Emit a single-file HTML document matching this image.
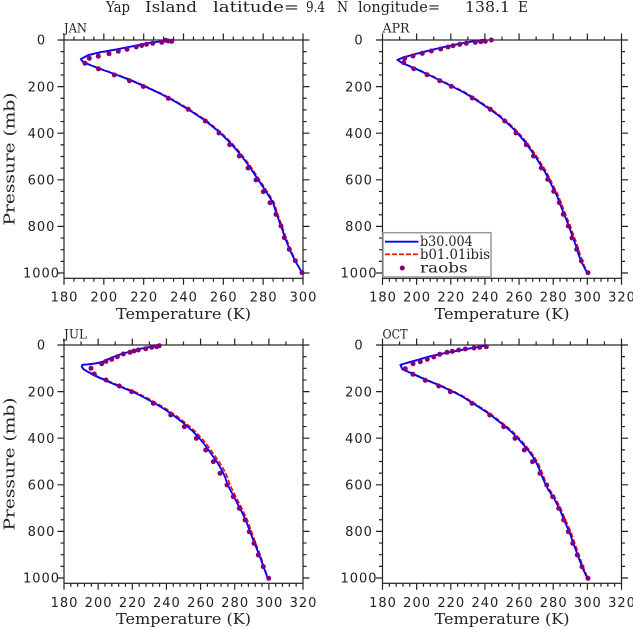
<!DOCTYPE html>
<html>
<head>
<meta charset="utf-8">
<style>
html,body{margin:0;padding:0;background:#fff;}
svg{display:block;}
</style>
</head>
<body>
<svg width="633" height="629" viewBox="0 0 633 629" xmlns="http://www.w3.org/2000/svg">
<defs>
<path id="yt" d="M-6.5 0H0M-6.5 46.6H0M-6.5 93.2H0M-6.5 139.8H0M-6.5 186.4H0M-6.5 233H0M-3.5 11.65H0M-3.5 23.3H0M-3.5 34.95H0M-3.5 58.25H0M-3.5 69.9H0M-3.5 81.55H0M-3.5 104.85H0M-3.5 116.5H0M-3.5 128.15H0M-3.5 151.45H0M-3.5 163.1H0M-3.5 174.75H0M-3.5 198.05H0M-3.5 209.7H0M-3.5 221.35H0"/>
<path id="xa" d="M0 0V6.5M39.83 0V6.5M79.67 0V6.5M119.5 0V6.5M159.33 0V6.5M199.17 0V6.5M239 0V6.5M9.96 0V3.5M19.92 0V3.5M29.88 0V3.5M49.79 0V3.5M59.75 0V3.5M69.71 0V3.5M89.63 0V3.5M99.58 0V3.5M109.54 0V3.5M129.46 0V3.5M139.42 0V3.5M149.38 0V3.5M169.29 0V3.5M179.25 0V3.5M189.21 0V3.5M209.13 0V3.5M219.08 0V3.5M229.04 0V3.5"/>
<path id="xb" d="M0 0V6.5M34.14 0V6.5M68.29 0V6.5M102.43 0V6.5M136.57 0V6.5M170.71 0V6.5M204.86 0V6.5M239 0V6.5M6.83 0V3.5M13.66 0V3.5M20.49 0V3.5M27.31 0V3.5M40.97 0V3.5M47.8 0V3.5M54.63 0V3.5M61.46 0V3.5M75.11 0V3.5M81.94 0V3.5M88.77 0V3.5M95.6 0V3.5M109.26 0V3.5M116.09 0V3.5M122.91 0V3.5M129.74 0V3.5M143.4 0V3.5M150.23 0V3.5M157.06 0V3.5M163.89 0V3.5M177.54 0V3.5M184.37 0V3.5M191.2 0V3.5M198.03 0V3.5M211.69 0V3.5M218.51 0V3.5M225.34 0V3.5M232.17 0V3.5"/>
<path id="xbt" d="M0 0V6.5M34.14 0V6.5M68.29 0V6.5M102.43 0V6.5M136.57 0V6.5M170.71 0V6.5M204.86 0V6.5M239 0V6.5M17.07 0V3.5M51.21 0V3.5M85.36 0V3.5M119.5 0V3.5M153.64 0V3.5M187.79 0V3.5M221.93 0V3.5"/>
</defs>

<!-- Title -->
<g font-family="'DejaVu Serif', 'Liberation Serif', serif" font-size="15" fill="#222">
<text x="106" y="12" textLength="24" lengthAdjust="spacingAndGlyphs">Yap</text>
<text x="145" y="12" textLength="52" lengthAdjust="spacingAndGlyphs">Island</text>
<text x="213" y="12" textLength="86" lengthAdjust="spacingAndGlyphs">latitude=</text>
<text x="306" y="12" textLength="19" lengthAdjust="spacingAndGlyphs">9.4</text>
<text x="337" y="12" textLength="11" lengthAdjust="spacingAndGlyphs">N</text>
<text x="358" y="12" textLength="82" lengthAdjust="spacingAndGlyphs">longitude=</text>
<text x="465" y="12" textLength="45" lengthAdjust="spacingAndGlyphs">138.1</text>
<text x="518" y="12" textLength="10" lengthAdjust="spacingAndGlyphs">E</text>
</g>

<!-- Axes frames and ticks -->
<g stroke="#222" stroke-width="1.2" fill="none">
  <g transform="translate(64,40)">
    <rect width="239" height="238.3"/>
    <use href="#yt"/>
    <use href="#yt" transform="translate(239,0) scale(-1,1)"/>
    <use href="#xa" transform="translate(0,238.3)"/>
    <use href="#xa" transform="scale(1,-1)"/>
  </g>
  <g transform="translate(382.5,40)">
    <rect width="239" height="238.3"/>
    <use href="#yt"/>
    <use href="#yt" transform="translate(239,0) scale(-1,1)"/>
    <use href="#xb" transform="translate(0,238.3)"/>
    <use href="#xbt" transform="scale(1,-1)"/>
  </g>
  <g transform="translate(64,345)">
    <rect width="239" height="238.3"/>
    <use href="#yt"/>
    <use href="#yt" transform="translate(239,0) scale(-1,1)"/>
    <use href="#xb" transform="translate(0,238.3)"/>
    <use href="#xbt" transform="scale(1,-1)"/>
  </g>
  <g transform="translate(382.5,345)">
    <rect width="239" height="238.3"/>
    <use href="#yt"/>
    <use href="#yt" transform="translate(239,0) scale(-1,1)"/>
    <use href="#xb" transform="translate(0,238.3)"/>
    <use href="#xbt" transform="scale(1,-1)"/>
  </g>
</g>

<!-- Tick labels -->
<g font-family="'DejaVu Sans', 'Liberation Sans', sans-serif" font-size="13" fill="#222" text-anchor="middle" letter-spacing="1">
  <text x="41.5" y="44.7">0</text>
  <text x="41.5" y="91.3">200</text>
  <text x="41.5" y="137.9">400</text>
  <text x="41.5" y="184.5">600</text>
  <text x="41.5" y="231.1">800</text>
  <text x="41.5" y="277.7">1000</text>
  <text x="359" y="44.7">0</text>
  <text x="359" y="91.3">200</text>
  <text x="359" y="137.9">400</text>
  <text x="359" y="184.5">600</text>
  <text x="359" y="231.1">800</text>
  <text x="359" y="277.7">1000</text>
  <text x="41.5" y="349.7">0</text>
  <text x="41.5" y="396.3">200</text>
  <text x="41.5" y="442.9">400</text>
  <text x="41.5" y="489.5">600</text>
  <text x="41.5" y="536.1">800</text>
  <text x="41.5" y="582.7">1000</text>
  <text x="359" y="349.7">0</text>
  <text x="359" y="396.3">200</text>
  <text x="359" y="442.9">400</text>
  <text x="359" y="489.5">600</text>
  <text x="359" y="536.1">800</text>
  <text x="359" y="582.7">1000</text>
  <text x="64.5" y="301.5">180</text>
  <text x="104.3" y="301.5">200</text>
  <text x="144.2" y="301.5">220</text>
  <text x="184" y="301.5">240</text>
  <text x="223.8" y="301.5">260</text>
  <text x="263.7" y="301.5">280</text>
  <text x="303.5" y="301.5">300</text>
  <text x="383" y="301.5">180</text>
  <text x="417.1" y="301.5">200</text>
  <text x="451.3" y="301.5">220</text>
  <text x="485.4" y="301.5">240</text>
  <text x="519.6" y="301.5">260</text>
  <text x="553.7" y="301.5">280</text>
  <text x="587.9" y="301.5">300</text>
  <text x="622" y="301.5">320</text>
  <text x="64.5" y="607">180</text>
  <text x="98.6" y="607">200</text>
  <text x="132.8" y="607">220</text>
  <text x="166.9" y="607">240</text>
  <text x="201.1" y="607">260</text>
  <text x="235.2" y="607">280</text>
  <text x="269.4" y="607">300</text>
  <text x="303.5" y="607">320</text>
  <text x="383" y="607">180</text>
  <text x="417.1" y="607">200</text>
  <text x="451.3" y="607">220</text>
  <text x="485.4" y="607">240</text>
  <text x="519.6" y="607">260</text>
  <text x="553.7" y="607">280</text>
  <text x="587.9" y="607">300</text>
  <text x="622" y="607">320</text>
</g>

<!-- Axis titles and panel labels -->
<g font-family="'DejaVu Serif', 'Liberation Serif', serif" fill="#222">
  <text x="183.5" y="319" font-size="15" text-anchor="middle" textLength="135" lengthAdjust="spacingAndGlyphs">Temperature (K)</text>
  <text x="502" y="319" font-size="15" text-anchor="middle" textLength="135" lengthAdjust="spacingAndGlyphs">Temperature (K)</text>
  <text x="183.5" y="624" font-size="15" text-anchor="middle" textLength="135" lengthAdjust="spacingAndGlyphs">Temperature (K)</text>
  <text x="502" y="624" font-size="15" text-anchor="middle" textLength="135" lengthAdjust="spacingAndGlyphs">Temperature (K)</text>
  <text transform="translate(14.5,159) rotate(-90)" font-size="15" text-anchor="middle" textLength="133" lengthAdjust="spacingAndGlyphs">Pressure (mb)</text>
  <text transform="translate(14.5,464) rotate(-90)" font-size="15" text-anchor="middle" textLength="133" lengthAdjust="spacingAndGlyphs">Pressure (mb)</text>
  <text x="64" y="32.5" font-size="13" textLength="23" lengthAdjust="spacingAndGlyphs">JAN</text>
  <text x="382.5" y="32.5" font-size="13" textLength="27" lengthAdjust="spacingAndGlyphs">APR</text>
  <text x="64" y="338.3" font-size="13" textLength="23" lengthAdjust="spacingAndGlyphs">JUL</text>
  <text x="382.5" y="338.3" font-size="13" textLength="25" lengthAdjust="spacingAndGlyphs">OCT</text>
</g>

<!-- Data: red dashed (under), blue solid -->
<g fill="none" stroke-linejoin="round">
  <polyline stroke="#ff0000" stroke-width="1.6" stroke-dasharray="5,2" points="170,40.3 150,43 118.3,49.3 100,52.6 88.5,55.3 81,59.2 83.8,62.3 99.2,68.3 116.2,74.2 131.2,80 146.2,86.5 161.2,93.5 176.3,101.5 191.3,110.5 206.3,120.5 219.3,131 231.3,142.5 241.3,154 250.3,166 258.3,178 266.2,190 274.2,202.7 277.6,214 282,226 286,237.7 290.4,249.3 295.6,260.7 302,272.7"/>
  <polyline stroke="#0000ff" stroke-width="1.8" points="170,40.3 150,42.7 118.3,49 100,52.3 88.3,55 80.7,59 83.3,62.3 98.3,68.3 115,74.2 130,80 145,86.5 160,93.5 175,101.5 190,110.5 205,120.5 218,131 230,142.5 240,154 249,166 257,178 265,190 273,202.7 276.5,214 281,226 285,237.7 289.5,249.3 295,260.7 302,272.7"/>
  <polyline stroke="#ff0000" stroke-width="1.6" stroke-dasharray="5,2" points="484,39.7 465,42.9 445,47.1 430,50.6 420,53.1 410,55.8 403.3,57.7 397.8,60 402.5,63 416,68.5 429.3,74.5 441.5,80.5 453.5,86.5 464.5,92 474.5,98 483.5,104 492.5,110 500.5,116 507.5,122 514.5,128.5 520.5,135 526.5,142 531.5,149 536.5,156 541.5,164 546.5,172 550.5,180 554.5,188 558.5,196 561.5,204 565.5,214 569.5,224 573.5,235 577.5,246 580.5,256 583.5,264 587.5,272.7"/>
  <polyline stroke="#0000ff" stroke-width="1.8" points="484,39.7 465,42.6 445,46.8 430,50.3 420,52.8 410,55.5 403,57.5 397.3,59.8 402,63 415,68.5 428,74.5 440,80.5 452,86.5 463,92 473,98 482,104 491,110 499,116 506,122 513,128.5 519,135 525,142 530,149 535,156 540,164 545,172 549,180 553,188 557,196 560,204 564,214 568,224 572,235 576,246 579,256 582.5,264 587,272.7"/>
  <polyline stroke="#ff0000" stroke-width="1.6" stroke-dasharray="5,2" points="160.5,345.3 150,347 140,349.1 130,351.8 120,354.8 111,358.1 103,361.9 96,363.6 88,364.6 82.5,365 82,366.5 84,369.3 94.5,375 108.2,381 121.8,386.7 135.5,392 147.3,398 157.3,403.5 167.3,409.5 177.3,416.5 186.3,423.5 195.3,431.5 202.3,439 208.3,446.5 214.3,455 219.3,462 224.3,470.5 227.3,477 230,485 236,497 241.8,508.3 247.3,520 251.5,531.7 255.7,543.3 260.2,555 264.2,566.7 268,578.3"/>
  <polyline stroke="#0000ff" stroke-width="1.8" points="160.5,345.3 150,346.7 140,348.8 130,351.5 120,354.5 111,357.8 103,361.6 96,363.3 88,364.3 82.3,364.8 81.7,366.5 83.5,369.3 93.3,375 106.7,381 120,386.7 133.3,392 145,398 155,403.5 165,409.5 175,416.5 184,423.5 193,431.5 200,439 206,446.5 212,455 217,462 222,470.5 225,477 227.7,485 234,497 240,508.3 245.7,520 250,531.7 254.5,543.3 259.3,555 263.5,566.7 267.7,578.3"/>
  <polyline stroke="#ff0000" stroke-width="1.6" stroke-dasharray="5,2" points="485,345.7 465,349.5 445,353.3 430,356.6 418,360.1 408,362.8 400.8,365 402.8,369.3 414,374 427.5,380 441,385.5 454.5,391.7 464.5,397 473.5,402.7 482.5,408.5 491.2,414.3 498.5,420 506.2,426 512.5,431.5 518,437 523.5,443 529.5,450 534.5,457 538.5,464 541.5,471 545,480 549.8,490 554.8,497 561.5,510 565.5,520 570.8,531.7 574.8,543.3 579,555 583,566.7 587.8,578.3"/>
  <polyline stroke="#0000ff" stroke-width="1.8" points="485,345.7 465,349.2 445,353 430,356.3 418,359.8 408,362.5 400.3,364.8 402.3,369.3 413,374 426.3,380 439.7,385.5 453,391.7 463,397 472,402.7 481,408.5 489.7,414.3 497,420 504.7,426 511,431.5 516.5,437 522,443 528,450 533,457 537,464 540,471 543.5,480 548.3,490 553.3,497 560,510 564,520 569.3,531.7 573.3,543.3 577.7,555 582,566.7 587.3,578.3"/>
</g>

<!-- raobs dots -->
<g fill="#800080">
  <circle cx="171.7" cy="41.3" r="2.5"/><circle cx="168.3" cy="41" r="2.5"/><circle cx="165.7" cy="40.3" r="2.5"/><circle cx="161.7" cy="42.3" r="2.5"/><circle cx="152.7" cy="43.3" r="2.5"/><circle cx="146.5" cy="44.3" r="2.5"/><circle cx="141.7" cy="45.5" r="2.5"/><circle cx="136.3" cy="46.9" r="2.5"/><circle cx="127" cy="49.3" r="2.5"/><circle cx="118.3" cy="51.2" r="2.5"/><circle cx="109" cy="53.7" r="2.5"/><circle cx="98.3" cy="56.2" r="2.5"/><circle cx="89.3" cy="58.3" r="2.5"/><circle cx="85" cy="63.2" r="2.5"/><circle cx="98.5" cy="68.8" r="2.5"/><circle cx="114.3" cy="75" r="2.5"/><circle cx="129.5" cy="80.7" r="2.5"/><circle cx="143.3" cy="86.5" r="2.5"/><circle cx="168.3" cy="98.3" r="2.5"/><circle cx="188.3" cy="109.3" r="2.5"/><circle cx="205.3" cy="121" r="2.5"/><circle cx="219" cy="133" r="2.5"/><circle cx="229.7" cy="144.7" r="2.5"/><circle cx="239.3" cy="156" r="2.5"/><circle cx="248" cy="168" r="2.5"/><circle cx="256" cy="180" r="2.5"/><circle cx="263.3" cy="191.7" r="2.5"/><circle cx="270" cy="202.7" r="2.5"/><circle cx="276" cy="214.3" r="2.5"/><circle cx="281" cy="226" r="2.5"/><circle cx="284.3" cy="237.7" r="2.5"/><circle cx="289.3" cy="249.3" r="2.5"/><circle cx="295.3" cy="260.7" r="2.5"/><circle cx="302" cy="272.7" r="2.5"/>
  <circle cx="491.3" cy="40" r="2.5"/><circle cx="485.3" cy="41.3" r="2.5"/><circle cx="480.7" cy="41.7" r="2.5"/><circle cx="475.3" cy="42.3" r="2.5"/><circle cx="466.3" cy="43.3" r="2.5"/><circle cx="459.7" cy="44.3" r="2.5"/><circle cx="453" cy="45.7" r="2.5"/><circle cx="448" cy="47" r="2.5"/><circle cx="440.7" cy="49" r="2.5"/><circle cx="431.3" cy="51" r="2.5"/><circle cx="422.3" cy="53.3" r="2.5"/><circle cx="413" cy="56" r="2.5"/><circle cx="404.7" cy="58.3" r="2.5"/><circle cx="403.7" cy="62.7" r="2.5"/><circle cx="413.7" cy="68.7" r="2.5"/><circle cx="427" cy="74.7" r="2.5"/><circle cx="439.7" cy="80.7" r="2.5"/><circle cx="451.3" cy="86.3" r="2.5"/><circle cx="472.3" cy="98" r="2.5"/><circle cx="490.3" cy="109.3" r="2.5"/><circle cx="504.7" cy="121" r="2.5"/><circle cx="516" cy="133" r="2.5"/><circle cx="526.3" cy="144.7" r="2.5"/><circle cx="533.5" cy="156" r="2.5"/><circle cx="541.3" cy="168" r="2.5"/><circle cx="547.7" cy="179.3" r="2.5"/><circle cx="553.7" cy="191.3" r="2.5"/><circle cx="559.3" cy="202.7" r="2.5"/><circle cx="563.3" cy="214.3" r="2.5"/><circle cx="568.3" cy="226" r="2.5"/><circle cx="572" cy="238" r="2.5"/><circle cx="576.7" cy="249.3" r="2.5"/><circle cx="581.3" cy="261" r="2.5"/><circle cx="588" cy="272.7" r="2.5"/>
  <circle cx="159.3" cy="345.7" r="2.5"/><circle cx="156.7" cy="346.7" r="2.5"/><circle cx="151.7" cy="347.3" r="2.5"/><circle cx="145.7" cy="348.7" r="2.5"/><circle cx="138.3" cy="350" r="2.5"/><circle cx="134" cy="351" r="2.5"/><circle cx="130" cy="352.3" r="2.5"/><circle cx="123.3" cy="354" r="2.5"/><circle cx="117.3" cy="356.7" r="2.5"/><circle cx="111.7" cy="359.3" r="2.5"/><circle cx="106" cy="361.3" r="2.5"/><circle cx="101.7" cy="363.7" r="2.5"/><circle cx="91" cy="368.3" r="2.5"/><circle cx="94.3" cy="374" r="2.5"/><circle cx="106" cy="380" r="2.5"/><circle cx="119.3" cy="386" r="2.5"/><circle cx="131.7" cy="391.7" r="2.5"/><circle cx="153.3" cy="403.3" r="2.5"/><circle cx="170.7" cy="415" r="2.5"/><circle cx="184.3" cy="426.7" r="2.5"/><circle cx="196.3" cy="438.3" r="2.5"/><circle cx="205.7" cy="450" r="2.5"/><circle cx="213.3" cy="461.7" r="2.5"/><circle cx="220" cy="473.3" r="2.5"/><circle cx="227" cy="485" r="2.5"/><circle cx="233.3" cy="496.7" r="2.5"/><circle cx="239.3" cy="508.3" r="2.5"/><circle cx="245" cy="520" r="2.5"/><circle cx="249.3" cy="531.7" r="2.5"/><circle cx="254" cy="543.3" r="2.5"/><circle cx="258.3" cy="555" r="2.5"/><circle cx="263.3" cy="566.7" r="2.5"/><circle cx="268.7" cy="578.3" r="2.5"/>
  <circle cx="486.3" cy="346.7" r="2.5"/><circle cx="479.7" cy="347.3" r="2.5"/><circle cx="474" cy="348" r="2.5"/><circle cx="465.3" cy="349" r="2.5"/><circle cx="458.7" cy="350" r="2.5"/><circle cx="452.3" cy="351.3" r="2.5"/><circle cx="447" cy="352.3" r="2.5"/><circle cx="439.7" cy="354.3" r="2.5"/><circle cx="433.7" cy="357" r="2.5"/><circle cx="427.3" cy="359.3" r="2.5"/><circle cx="420.3" cy="361.7" r="2.5"/><circle cx="413" cy="363.7" r="2.5"/><circle cx="405.3" cy="368.7" r="2.5"/><circle cx="413" cy="374.3" r="2.5"/><circle cx="425.3" cy="380.3" r="2.5"/><circle cx="438.7" cy="386" r="2.5"/><circle cx="450.3" cy="391.7" r="2.5"/><circle cx="472" cy="403.3" r="2.5"/><circle cx="489.7" cy="415" r="2.5"/><circle cx="503.7" cy="426.7" r="2.5"/><circle cx="515" cy="438.3" r="2.5"/><circle cx="524.3" cy="450" r="2.5"/><circle cx="532.5" cy="461.7" r="2.5"/><circle cx="540" cy="473.3" r="2.5"/><circle cx="546.7" cy="485" r="2.5"/><circle cx="552.7" cy="496.7" r="2.5"/><circle cx="558.7" cy="508.3" r="2.5"/><circle cx="563.7" cy="520" r="2.5"/><circle cx="568.3" cy="531.7" r="2.5"/><circle cx="572.7" cy="543.3" r="2.5"/><circle cx="577.3" cy="555" r="2.5"/><circle cx="582" cy="566.7" r="2.5"/><circle cx="588" cy="578.3" r="2.5"/>
</g>

<!-- Legend -->
<g>
  <rect x="383" y="232.7" width="108" height="44.3" fill="#fff" stroke="#999" stroke-width="1.5"/>
  <line x1="385" y1="241.7" x2="418.5" y2="241.7" stroke="#0000ff" stroke-width="1.8"/>
  <line x1="385" y1="254.3" x2="418.5" y2="254.3" stroke="#ff0000" stroke-width="1.6" stroke-dasharray="5,2"/>
  <circle cx="402.3" cy="268" r="2.5" fill="#800080"/>
  <g font-family="'DejaVu Serif', 'Liberation Serif', serif" font-size="13.5" fill="#222">
    <text x="420" y="245.8" textLength="52.7" lengthAdjust="spacingAndGlyphs">b30.004</text>
    <text x="420" y="259" textLength="70" lengthAdjust="spacingAndGlyphs">b01.01ibis</text>
    <text x="420" y="272.7" textLength="47.7" lengthAdjust="spacingAndGlyphs">raobs</text>
  </g>
</g>
</svg>
</body>
</html>
